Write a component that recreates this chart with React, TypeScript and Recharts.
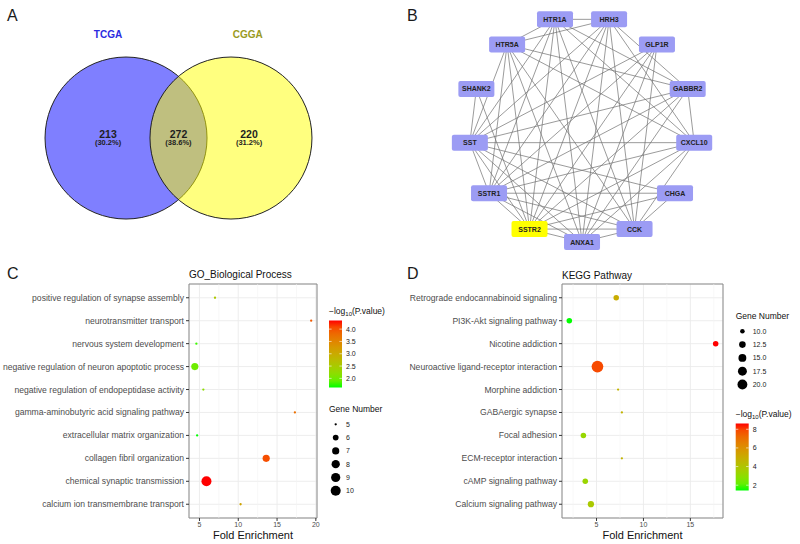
import React from "react";
import {
  ScatterChart,
  Scatter,
  XAxis,
  YAxis,
  CartesianGrid,
  ReferenceLine,
  ReferenceArea,
} from "recharts";

const FONT = '"Liberation Sans", Arial, Helvetica, sans-serif';

// A: overlap of genes between the two cohorts
const vennSets = ["TCGA", "CGGA"];
const vennCounts = [213, 272, 220]; // TCGA only, both, CGGA only
const vennShares = ["(30.2%)", "(38.6%)", "(31.2%)"];

// B: PPI network, circular layout, clockwise from the bottom
const netGenes = ["ANXA1", "SSTR2", "SSTR1", "SST", "SHANK2", "HTR5A", "HTR1A", "HRH3", "GLP1R", "GABBR2", "CXCL10", "CHGA", "CCK"];
const netHighlight = ["SSTR2"];
const netEdges: [string, string][] = [
  ["HTR1A", "HRH3"], ["HTR1A", "HTR5A"], ["HTR1A", "GABBR2"], ["HTR1A", "CXCL10"], ["HTR1A", "SST"],
  ["HTR1A", "SSTR1"], ["HTR1A", "SSTR2"], ["HTR1A", "ANXA1"], ["HTR1A", "CCK"],
  ["HRH3", "HTR5A"], ["HRH3", "GABBR2"], ["HRH3", "CXCL10"], ["HRH3", "SST"], ["HRH3", "SSTR1"],
  ["HRH3", "SSTR2"], ["HRH3", "ANXA1"], ["HRH3", "CCK"],
  ["HTR5A", "GABBR2"], ["HTR5A", "CXCL10"], ["HTR5A", "SST"], ["HTR5A", "SSTR1"], ["HTR5A", "SSTR2"],
  ["HTR5A", "ANXA1"], ["HTR5A", "CCK"],
  ["GLP1R", "SST"], ["GLP1R", "SSTR1"], ["GLP1R", "SSTR2"], ["GLP1R", "ANXA1"], ["GLP1R", "CCK"],
  ["GABBR2", "CXCL10"], ["GABBR2", "SST"], ["GABBR2", "SSTR1"], ["GABBR2", "SSTR2"], ["GABBR2", "ANXA1"],
  ["CXCL10", "SST"], ["CXCL10", "SSTR1"], ["CXCL10", "SSTR2"], ["CXCL10", "ANXA1"], ["CXCL10", "CCK"],
  ["CHGA", "SSTR1"], ["CHGA", "SST"], ["CHGA", "SSTR2"], ["CHGA", "CCK"],
  ["CCK", "SSTR2"], ["CCK", "ANXA1"], ["CCK", "SST"], ["CCK", "SSTR1"],
  ["ANXA1", "SSTR2"], ["ANXA1", "SSTR1"], ["ANXA1", "SST"],
  ["SSTR2", "SSTR1"], ["SSTR2", "SST"], ["SSTR1", "SST"],
  ["SHANK2", "SST"], ["SHANK2", "SSTR2"],
];

// C: GO biological process (top to bottom)
const goTerms = [
  "positive regulation of synapse assembly",
  "neurotransmitter transport",
  "nervous system development",
  "negative regulation of neuron apoptotic process",
  "negative regulation of endopeptidase activity",
  "gamma-aminobutyric acid signaling pathway",
  "extracellular matrix organization",
  "collagen fibril organization",
  "chemical synaptic transmission",
  "calcium ion transmembrane transport",
];
const goFold = [7.0, 19.4, 4.6, 4.4, 5.5, 17.3, 4.7, 13.6, 5.9, 10.3];
const goGenes = [5, 5, 5, 7, 5, 5, 5, 7, 10, 5];
const goLogP = [2.55, 3.95, 1.72, 1.95, 2.2, 3.75, 1.63, 4.05, 4.35, 3.1];
const goSizeBreaks = [5, 6, 7, 8, 9, 10];
const goColorBreaks = [2.0, 2.5, 3.0, 3.5, 4.0];

// D: KEGG pathways (top to bottom)
const keggTerms = [
  "Retrograde endocannabinoid signaling",
  "PI3K-Akt signaling pathway",
  "Nicotine addiction",
  "Neuroactive ligand-receptor interaction",
  "Morphine addiction",
  "GABAergic synapse",
  "Focal adhesion",
  "ECM-receptor interaction",
  "cAMP signaling pathway",
  "Calcium signaling pathway",
];
const keggFold = [7.1, 2.1, 17.7, 5.1, 7.3, 7.7, 3.6, 7.7, 3.8, 4.4];
const keggGenes = [11, 11, 11, 26, 9, 9, 11, 9, 11, 12];
const keggLogP = [5.0, 1.43, 8.62, 7.9, 4.7, 4.7, 3.2, 4.7, 3.3, 3.8];
const keggSizeBreaks = [10, 12.5, 15, 17.5, 20];
const keggColorBreaks = [2, 4, 6, 8];

// green -> red gradient interpolated in Lab, like ggplot's scale_colour_gradient
const lin = (c: number) => {
  const v = c / 255;
  return v <= 0.04045 ? v / 12.92 : Math.pow((v + 0.055) / 1.055, 2.4);
};
const unlin = (c: number) => {
  const v = c <= 0.0031308 ? 12.92 * c : 1.055 * Math.pow(c, 1 / 2.4) - 0.055;
  return Math.round(Math.max(0, Math.min(1, v)) * 255);
};
function toLab(rgb: number[]) {
  const [r, g, b] = rgb.map(lin);
  const x = (0.4124 * r + 0.3576 * g + 0.1805 * b) / 0.95047;
  const y = 0.2126 * r + 0.7152 * g + 0.0722 * b;
  const z = (0.0193 * r + 0.1192 * g + 0.9505 * b) / 1.08883;
  const f = (t: number) => (t > 0.008856 ? Math.cbrt(t) : 7.787 * t + 16 / 116);
  return [116 * f(y) - 16, 500 * (f(x) - f(y)), 200 * (f(y) - f(z))];
}
function fromLab(lab: number[]) {
  const fy = (lab[0] + 16) / 116;
  const fx = fy + lab[1] / 500;
  const fz = fy - lab[2] / 200;
  const inv = (t: number) => (t * t * t > 0.008856 ? t * t * t : (t - 16 / 116) / 7.787);
  const x = 0.95047 * inv(fx), y = inv(fy), z = 1.08883 * inv(fz);
  const r = 3.2406 * x - 1.5372 * y - 0.4986 * z;
  const g = -0.9689 * x + 1.8758 * y + 0.0415 * z;
  const b = 0.0557 * x - 0.204 * y + 1.057 * z;
  return "rgb(" + unlin(r) + "," + unlin(g) + "," + unlin(b) + ")";
}
const LAB_LOW = toLab([0, 255, 0]);
const LAB_HIGH = toLab([255, 0, 0]);
function gradient(t: number) {
  const u = Math.max(0, Math.min(1, t));
  return fromLab(LAB_LOW.map((v, i) => v + (LAB_HIGH[i] - v) * u));
}

const NoMark = () => <g />;

function VennPanel() {
  const centers = [0, 1.296];
  const fills = ["#0000FF", "#FFFF00"];
  const titleColors = ["#2B2BDF", "#9A9A22"];
  const circles = vennSets.map((s, i) => ({ set: s, x: centers[i], y: 0, i }));
  const regionX = [-0.222, 0.648, 1.519];
  const regions = vennCounts.map((c, i) => ({ count: c, share: vennShares[i], x: regionX[i], y: 0 }));
  const titleX = [-0.222, 1.502];
  const titles = vennSets.map((s, i) => ({ set: s, x: titleX[i], y: 1.272, i }));

  const Circle = (p: any) => (
    <circle cx={p.cx} cy={p.cy} r={81} fill={fills[p.payload.i]} fillOpacity={0.5} stroke="#222" strokeWidth={1} />
  );
  const Region = (p: any) => (
    <g fill="#1e1e1e" fontWeight="bold" textAnchor="middle" fontFamily={FONT}>
      <text x={p.cx} y={p.cy - 0.5} fontSize={10.5}>{p.payload.count}</text>
      <text x={p.cx} y={p.cy + 7} fontSize={7.5}>{p.payload.share}</text>
    </g>
  );
  const Title = (p: any) => (
    <text x={p.cx} y={p.cy + 3.5} fontSize={10} fontWeight="bold" textAnchor="middle" fill={titleColors[p.payload.i]} fontFamily={FONT}>
      {p.payload.set}
    </text>
  );

  return (
    <ScatterChart width={400} height={260} margin={{ top: 0, right: 0, bottom: 0, left: 0 }}>
      <XAxis type="number" dataKey="x" domain={[-1.556, 3.383]} hide allowDataOverflow />
      <YAxis type="number" dataKey="y" domain={[-1.506, 1.704]} hide allowDataOverflow />
      <Scatter data={circles} shape={Circle} isAnimationActive={false} />
      <Scatter data={regions} shape={Region} isAnimationActive={false} />
      <Scatter data={titles} shape={Title} isAnimationActive={false} />
    </ScatterChart>
  );
}

function NetworkPanel() {
  const pos: Record<string, { name: string; x: number; y: number }> = {};
  const nodes = netGenes.map((g, i) => {
    const a = (i * 2 * Math.PI) / netGenes.length;
    const p = { name: g, x: -Math.sin(a), y: -Math.cos(a) };
    pos[g] = p;
    return p;
  });
  const Node = (p: any) => {
    const hi = netHighlight.includes(p.payload.name);
    return (
      <g>
        <rect x={p.cx - 18} y={p.cy - 8} width={36} height={16} rx={2} fill={hi ? "#FFFF00" : "#9C9CF4"} />
        <text x={p.cx} y={p.cy + 2.5} textAnchor="middle" fontSize={7} fontWeight="bold" fill="#222" fontFamily={FONT}>
          {p.payload.name}
        </text>
      </g>
    );
  };
  return (
    <ScatterChart width={400} height={260} margin={{ top: 0, right: 0, bottom: 0, left: 0 }}>
      <XAxis type="number" dataKey="x" domain={[-1.611, 1.929]} hide allowDataOverflow />
      <YAxis type="number" dataKey="y" domain={[-1.159, 1.142]} hide allowDataOverflow />
      {netEdges.map(([a, b], k) => (
        <Scatter
          key={k}
          data={[pos[a], pos[b]]}
          line={{ stroke: "#707070", strokeWidth: 0.7 }}
          shape={NoMark}
          isAnimationActive={false}
        />
      ))}
      <Scatter data={nodes} shape={Node} isAnimationActive={false} />
    </ScatterChart>
  );
}

type BubbleProps = {
  title: string;
  titleY: number;
  terms: string[];
  termSize: number;
  fold: number[];
  genes: number[];
  logP: number[];
  xTicks: number[];
  plotLeft: number;
  plotRight: number;
  rMax: number;
  sizeBreaks: number[];
  sizeLabel: (v: number) => string;
  colorBreaks: number[];
  colorLabel: (v: number) => string;
  legendX: number;
  colorY: number;
  sizeY: number;
  gradId: string;
};

function BubblePanel(props: BubbleProps) {
  const { terms, fold, genes, logP, xTicks, plotLeft, plotRight, legendX } = props;
  const n = terms.length;
  const fMin = Math.min(...fold);
  const fMax = Math.max(...fold);
  const pad = (fMax - fMin) * 0.05;
  const xDomain: [number, number] = [fMin - pad, fMax + pad];
  const cLo = Math.min(...logP);
  const cHi = Math.max(...logP);
  const sLo = Math.min(...genes);
  const sHi = Math.max(...genes);
  const colorOf = (v: number) => gradient((v - cLo) / (cHi - cLo));
  const radius = (v: number) => 1.15 + (props.rMax - 1.15) * Math.sqrt(Math.max(0, (v - sLo) / (sHi - sLo)));
  const rows = terms.map((_, i) => i + 1);
  const minor = [xTicks[0] - 2.5, ...xTicks.map((t) => t + 2.5)].filter((m) => m > xDomain[0] && m < xDomain[1]);
  const data = terms.map((t, i) => ({ term: t, x: fold[i], y: n - i, genes: genes[i], p: logP[i] }));

  const Bubble = (p: any) => (
    <circle cx={p.cx} cy={p.cy} r={radius(p.payload.genes)} fill={colorOf(p.payload.p)} />
  );
  // one-line term labels (Recharts would wrap long ones)
  const TermTick = (p: any) => (
    <text x={p.x} y={p.y} dy={3} textAnchor="end" fontSize={props.termSize} fill="#4D4D4D">
      {terms[n - p.payload.value]}
    </text>
  );

  const barTop = props.colorY + 6.5;
  const barH = 67;
  const barW = 13;
  const keyCx = legendX + 6.7;
  const labX = legendX + 17;
  const stops = Array.from({ length: 11 }, (_, k) => k / 10);

  return (
    <div style={{ position: "relative", width: 400, height: 284 }}>
      <ScatterChart width={400} height={284} margin={{ top: 24, right: 400 - plotRight, bottom: 0, left: 0 }}>
        <CartesianGrid stroke="#EBEBEB" strokeWidth={0.9} />
        {minor.map((m) => (
          <ReferenceLine key={m} x={m} stroke="#F3F3F3" strokeWidth={0.6} />
        ))}
        <XAxis
          type="number"
          dataKey="x"
          domain={xDomain}
          ticks={xTicks}
          allowDataOverflow
          interval={0}
          height={26}
          axisLine={false}
          tickLine={{ stroke: "#333" }}
          tickSize={3}
          tickMargin={1}
          tick={{ fontSize: 7, fill: "#4D4D4D" }}
        />
        <YAxis
          type="number"
          dataKey="y"
          domain={[0.4, n + 0.6]}
          ticks={rows}
          allowDataOverflow
          interval={0}
          width={plotLeft}
          axisLine={false}
          tickLine={{ stroke: "#333" }}
          tickSize={3}
          tickMargin={2}
          tick={TermTick}
        />
        <ReferenceArea
          x1={xDomain[0]}
          x2={xDomain[1]}
          y1={0.4}
          y2={n + 0.6}
          fill="none"
          fillOpacity={0}
          stroke="#8a8a8a"
          strokeWidth={1}
          ifOverflow="visible"
        />
        <Scatter data={data} shape={Bubble} isAnimationActive={false} />
      </ScatterChart>
      <svg
        width={400}
        height={284}
        style={{ position: "absolute", left: 0, top: 0, pointerEvents: "none" }}
        fontFamily={FONT}
      >
        <defs>
          <linearGradient id={props.gradId} x1="0" y1="1" x2="0" y2="0">
            {stops.map((s) => (
              <stop key={s} offset={s} stopColor={gradient(s)} />
            ))}
          </linearGradient>
        </defs>
        <text x={plotLeft} y={props.titleY} fontSize={10} fill="#111">
          {props.title}
        </text>
        <text x={(plotLeft + plotRight) / 2} y={279} fontSize={11} textAnchor="middle" fill="#111">
          Fold Enrichment
        </text>

        <text x={legendX} y={props.colorY} fontSize={8.5} fill="#111">
          −log<tspan fontSize={6} dy={2}>10</tspan>
          <tspan dy={-2}>(P.value)</tspan>
        </text>
        <rect x={legendX} y={barTop} width={barW} height={barH} fill={`url(#${props.gradId})`} />
        {props.colorBreaks.map((v) => {
          const y = barTop + barH - ((v - cLo) / (cHi - cLo)) * barH;
          return (
            <g key={v}>
              <line x1={legendX} x2={legendX + 2.6} y1={y} y2={y} stroke="#fff" strokeWidth={0.6} />
              <line x1={legendX + barW - 2.6} x2={legendX + barW} y1={y} y2={y} stroke="#fff" strokeWidth={0.6} />
              <text x={labX} y={y + 2.5} fontSize={7} fill="#222">
                {props.colorLabel(v)}
              </text>
            </g>
          );
        })}

        <text x={legendX} y={props.sizeY} fontSize={8.5} fill="#111">
          Gene Number
        </text>
        {props.sizeBreaks.map((v, k) => {
          const y = props.sizeY + 12.3 + k * 13.3;
          return (
            <g key={v}>
              <circle cx={keyCx} cy={y} r={radius(v)} fill="#000" />
              <text x={labX} y={y + 2.5} fontSize={7} fill="#222">
                {props.sizeLabel(v)}
              </text>
            </g>
          );
        })}
      </svg>
    </div>
  );
}

const letter = (ch: string, x: number, y: number) => (
  <div style={{ position: "absolute", left: x, top: y, fontSize: 16, lineHeight: "16px", color: "#1a1a1a" }}>{ch}</div>
);

export default function App() {
  return (
    <div
      style={{
        position: "absolute",
        left: 0,
        top: 0,
        width: 800,
        height: 544,
        background: "#fff",
        fontFamily: FONT,
        overflow: "hidden",
      }}
    >
      <div style={{ position: "absolute", left: 0, top: 0 }}>
        <VennPanel />
      </div>
      <div style={{ position: "absolute", left: 400, top: 0 }}>
        <NetworkPanel />
      </div>
      <div style={{ position: "absolute", left: 0, top: 260 }}>
        <BubblePanel
          title="GO_Biological Process"
          titleY={17.5}
          terms={goTerms}
          termSize={8.6}
          fold={goFold}
          genes={goGenes}
          logP={goLogP}
          xTicks={[5, 10, 15, 20]}
          plotLeft={189}
          plotRight={317}
          rMax={5}
          sizeBreaks={goSizeBreaks}
          sizeLabel={(v) => String(v)}
          colorBreaks={goColorBreaks}
          colorLabel={(v) => v.toFixed(1)}
          legendX={329}
          colorY={54}
          sizeY={152}
          gradId="goGrad"
        />
      </div>
      <div style={{ position: "absolute", left: 400, top: 260 }}>
        <BubblePanel
          title="KEGG Pathway"
          titleY={18.5}
          terms={keggTerms}
          termSize={8.6}
          fold={keggFold}
          genes={keggGenes}
          logP={keggLogP}
          xTicks={[5, 10, 15]}
          plotLeft={162}
          plotRight={323}
          rMax={5.85}
          sizeBreaks={keggSizeBreaks}
          sizeLabel={(v) => v.toFixed(1)}
          colorBreaks={keggColorBreaks}
          colorLabel={(v) => String(v)}
          legendX={335.7}
          colorY={157}
          sizeY={59}
          gradId="keggGrad"
        />
      </div>
      {letter("A", 7, 8)}
      {letter("B", 407, 8)}
      {letter("C", 7, 266)}
      {letter("D", 407, 266)}
    </div>
  );
}
